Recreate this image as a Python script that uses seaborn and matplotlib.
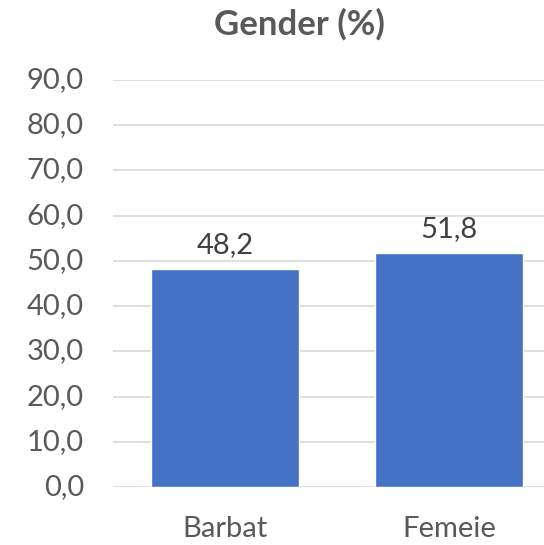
import matplotlib
matplotlib.use('Agg')
import matplotlib.pyplot as plt
import matplotlib.transforms as mtransforms
import seaborn as sns

sns.set_theme(style="white")
plt.rcParams['font.family'] = ['Lato', 'DejaVu Sans']

# data
categories = ['Barbat', 'Femeie']
percent = [48.2, 51.8]
y_ticks = [0, 10, 20, 30, 40, 50, 60, 70, 80, 90]

TEXT = '#595959'
BLUE = '#4472C4'


def fmt(v):
    return f'{v:.1f}'.replace('.', ',')


fig = plt.figure(figsize=(5.44, 5.45), dpi=100)
ax = fig.add_axes([113 / 544, 58 / 545, 448 / 544, 407 / 545])

sns.barplot(x=categories, y=percent, color=BLUE, width=0.665, saturation=1, ax=ax)

ax.set_ylim(0, 90)
ax.set_xlim(-0.5, 1.5)
ax.set_yticks(y_ticks)
ax.set_yticklabels([])
ax.grid(axis='y', color='#D9D9D9', linewidth=1.2)
ax.set_axisbelow(True)
for s in ax.spines.values():
    s.set_visible(False)
ax.set_xlabel('')
ax.set_ylabel('')
ax.yaxis.set_tick_params(length=0)
ax.xaxis.set_tick_params(length=0, pad=21, labelsize=21, labelcolor=TEXT)

# y tick labels: right edge at x=84 px of the figure, y from the data scale
ylab_trans = mtransforms.blended_transform_factory(fig.transFigure, ax.transData)
for v in y_ticks:
    ax.text(84 / 544, v, fmt(v), transform=ylab_trans, ha='right', va='center',
            fontsize=21, color=TEXT, clip_on=False)

for c in ax.containers:
    ax.bar_label(c, labels=[fmt(v) for v in percent],
                 padding=8, fontsize=21, color='#404040')

fig.text(0.55, 1 - 35 / 545, 'Gender (%)', ha='center', va='baseline',
         fontsize=25, fontweight='bold', color=TEXT)

plt.savefig('out.png', dpi=100)
plt.close()
